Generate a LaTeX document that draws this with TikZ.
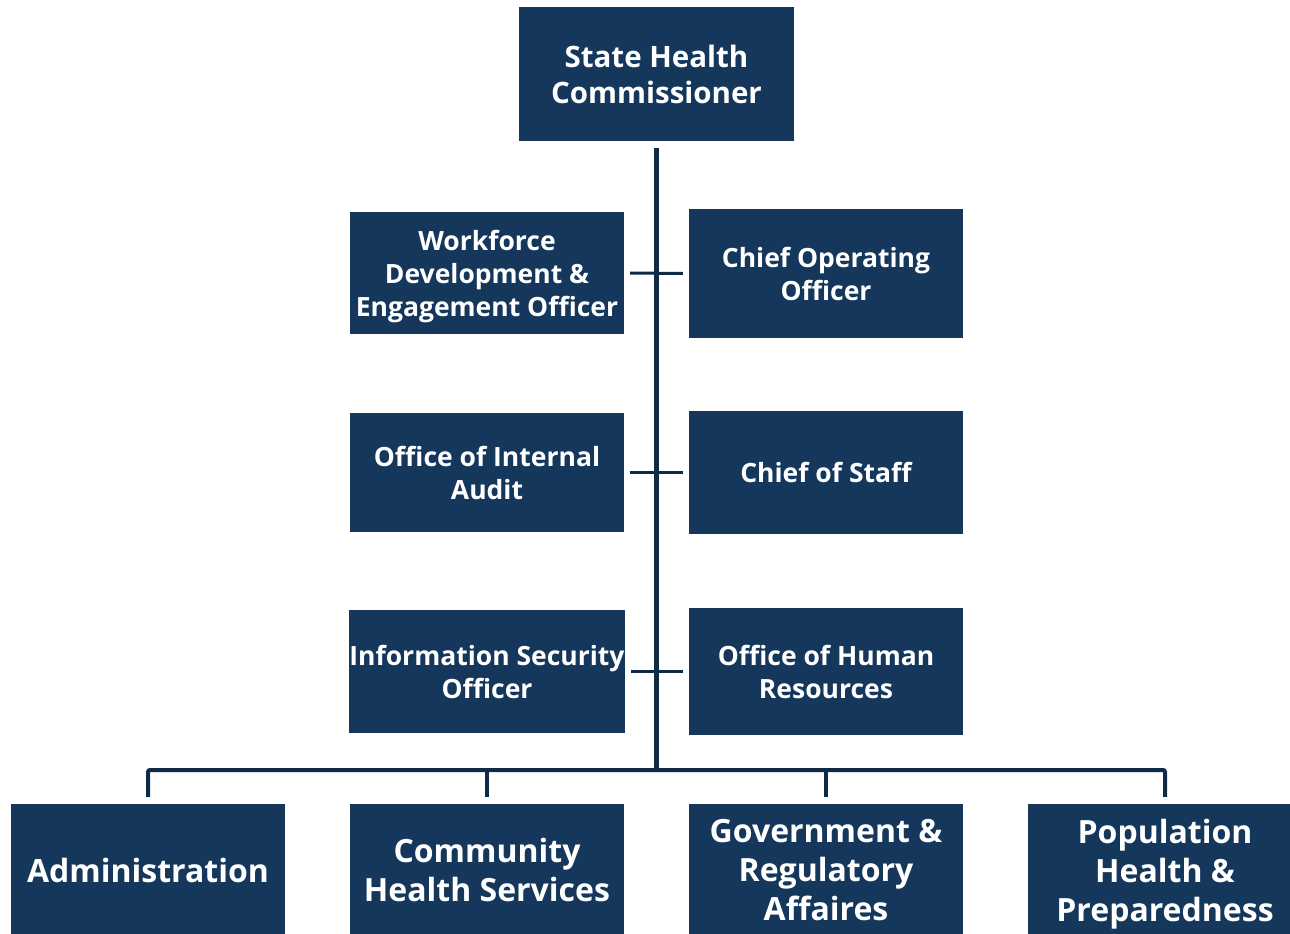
\documentclass[tikz,border=0pt]{standalone}
\usepackage{fontspec}
\setmainfont{Open Sans}[BoldFont={* Bold}]
\definecolor{boxblue}{HTML}{14375B}
\definecolor{lineblue}{HTML}{0E2A47}
\begin{document}
\begin{tikzpicture}[x=1pt,y=-1pt,
  unit/.style={rectangle, fill=boxblue, text=white, align=center,
    font=\bfseries\fontsize{26.5}{33}\selectfont, inner sep=0pt,
    text depth=0pt},
  midbox/.style={unit, minimum width=274, minimum height=#1},
  topbox/.style={unit, minimum width=275, minimum height=134,
    font=\bfseries\fontsize{29.5}{36}\selectfont},
  basebox/.style={unit, minimum width=274, minimum height=132,
    font=\bfseries\fontsize{32}{39}\selectfont},
  link/.style={draw=lineblue, line width=3pt},
  spine/.style={draw=lineblue, line width=5pt},
  bus/.style={draw=lineblue, line width=4pt, rounded corners=2pt}]
\useasboundingbox[clip] (0,0) rectangle (1290,934);

% head of the department
\node[topbox] (shc) at (656.5,74) {State Health\\Commissioner};

% offices reporting directly
\node[midbox=122] (wf)  at (487,273)   {Workforce\\Development \&\\Engagement Officer};
\node[midbox=129] (coo) at (826,273.5) {Chief Operating\\Officer};
\node[midbox=119] (ia)  at (487,472.5) {Office of Internal\\Audit};
\node[midbox=123] (cos) at (826,472.5) {Chief of Staff};
\node[midbox=123] (iso) at (487,671.5) {Information Security\\Officer};
\node[midbox=127] (hr)  at (826,671.5) {Office of Human\\Resources};

% divisions
\node[basebox] (adm) at (148,870)    {Administration};
\node[basebox] (chs) at (487,870)    {Community\\Health Services};
\node[basebox] (gov) at (826,870)    {Government \&\\Regulatory\\Affaires};
\node[basebox] (pop) at (1165,870)   {Population\\Health \&\\Preparedness};

% spine and horizontal ticks
\coordinate (busc) at (656,770);
\draw[spine] ([yshift=-7pt]shc.south -| busc) -- (busc);
\foreach \l/\r in {wf/coo, ia/cos, iso/hr}
  \draw[link] ([xshift=6pt]\l.east) -- ([xshift=-6pt]\r.west);

% bus to the divisions
\draw[bus] ([yshift=7pt]adm.north) |- (busc) -| ([yshift=7pt]pop.north);
\draw[bus] ([yshift=7pt]chs.north) -- (chs.north |- busc);
\draw[bus] ([yshift=7pt]gov.north) -- (gov.north |- busc);
\end{tikzpicture}
\end{document}
